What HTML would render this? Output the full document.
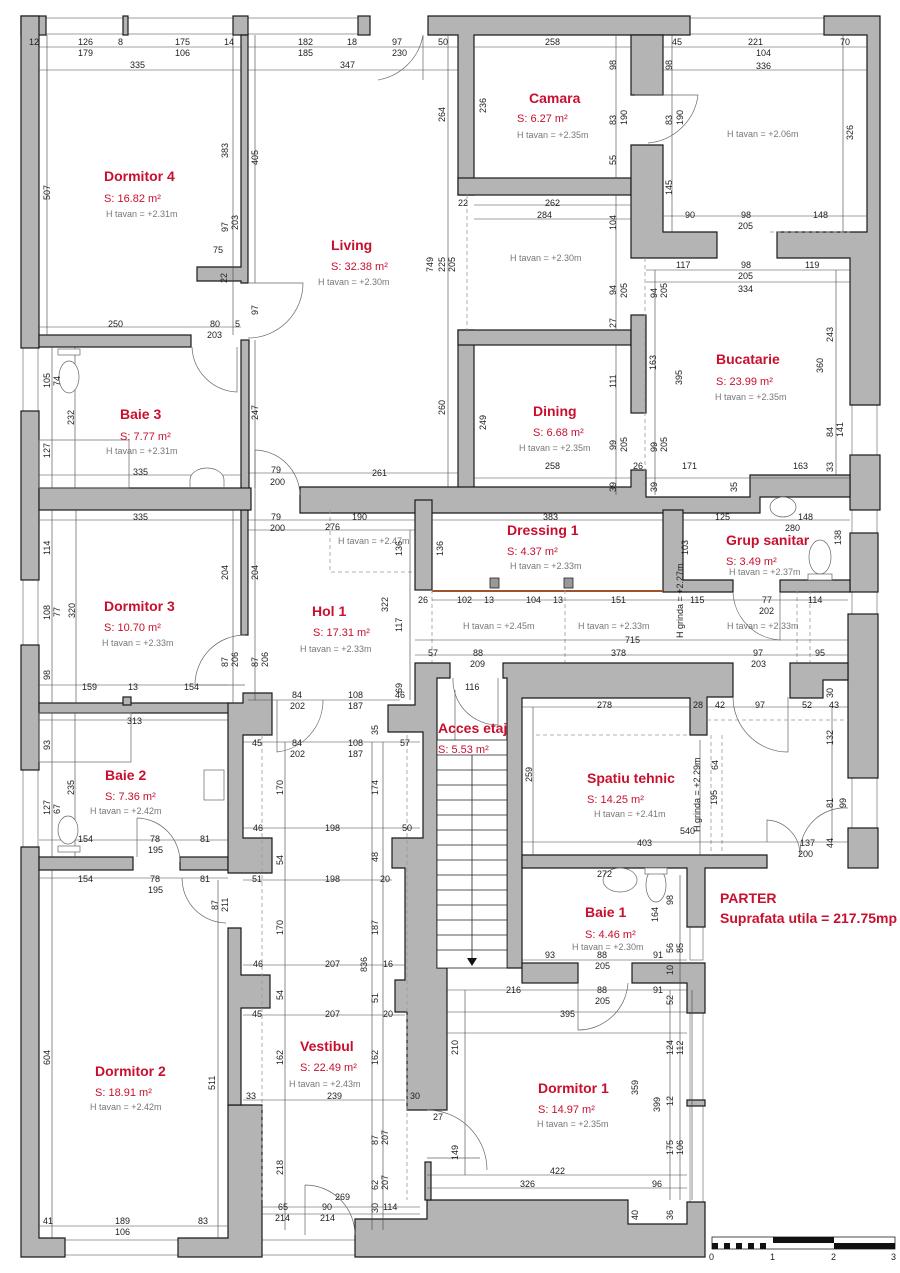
<!DOCTYPE html>
<html><head><meta charset="utf-8"><style>
html,body{margin:0;padding:0;background:#fff;}
svg{display:block;}
.w{fill:#b4b4b4;stroke:#1a1a1a;stroke-width:1.2;}
.d{font-family:"Liberation Sans",sans-serif;font-size:9px;fill:#222;}
.t{font-family:"Liberation Sans",sans-serif;font-size:14px;font-weight:bold;fill:#c8102e;}
.s{font-family:"Liberation Sans",sans-serif;font-size:11px;fill:#c8102e;}
.h{font-family:"Liberation Sans",sans-serif;font-size:9px;fill:#777;}
.l{stroke:#444;stroke-width:0.6;fill:none;}
.dash{stroke:#999;stroke-width:0.8;fill:none;stroke-dasharray:4 3;}
.win{fill:#fff;stroke:#777;stroke-width:0.7;}
.arc{stroke:#666;stroke-width:0.7;fill:none;}
</style></head><body>
<svg width="900" height="1273" viewBox="0 0 900 1273" xmlns="http://www.w3.org/2000/svg">
<!-- windows -->
<rect class="win" x="46" y="18" width="188" height="16"/>
<rect class="win" x="248" y="18" width="110" height="16"/>
<rect class="win" x="690" y="18" width="134" height="16"/>
<rect class="win" x="23" y="348" width="15" height="63"/>
<rect class="win" x="23" y="580" width="15" height="65"/>
<rect class="win" x="23" y="770" width="15" height="77"/>
<rect class="win" x="65" y="1240" width="113" height="15"/>
<rect class="win" x="852" y="405" width="25" height="50"/>
<rect class="win" x="852" y="510" width="25" height="23"/>
<rect class="win" x="852" y="592" width="25" height="22"/>
<rect class="win" x="852" y="778" width="25" height="50"/>
<rect class="win" x="690" y="927" width="13" height="33"/>
<rect class="win" x="690" y="1013" width="13" height="189"/>
<rect class="win" x="262" y="1240" width="93" height="15"/>

<!-- outer walls -->
<rect class="w" x="21" y="16" width="25" height="19"/>
<rect class="w" x="21" y="16" width="18" height="332"/>
<rect class="w" x="123" y="16" width="5" height="19"/>
<rect class="w" x="233" y="16" width="15" height="19"/>
<rect class="w" x="358" y="16" width="12" height="19"/>
<path class="w" d="M428 16 H690 V35 H474 V195 H458 V35 H428 Z"/>
<path class="w" d="M824 16 H880 V405 H850 V258 H777 V232 H867 V35 H824 Z"/>
<rect class="w" x="850" y="455" width="30" height="55"/>
<rect class="w" x="850" y="533" width="28" height="59"/>
<rect class="w" x="848" y="614" width="30" height="164"/>
<rect class="w" x="848" y="828" width="30" height="40"/>
<rect class="w" x="21" y="411" width="18" height="169"/>
<rect class="w" x="21" y="645" width="18" height="125"/>
<path class="w" d="M21 847 H39 V1238 H65 V1257 H21 Z"/>
<path class="w" d="M178 1238 H228 V1105 H262 V1257 H178 Z"/>
<path class="w" d="M355 1257 V1219 H427 V1200 H628 V1224 H687 V1202 H705 V1257 Z"/>
<!-- interior -->
<path class="w" d="M241 35 H248 V283 H241 V281 H197 V267 H241 Z"/>
<rect class="w" x="39" y="335" width="152" height="12"/>
<rect class="w" x="241" y="340" width="8" height="170"/>
<rect class="w" x="241" y="510" width="7" height="125"/>
<rect class="w" x="39" y="488" width="212" height="22"/>
<rect class="w" x="458" y="330" width="16" height="180"/>
<rect class="w" x="458" y="178" width="173" height="17"/>
<path class="w" d="M631 35 H663 V95 H631 Z"/>
<path class="w" d="M631 145 H663 V232 H717 V258 H631 Z"/>
<rect class="w" x="458" y="330" width="173" height="15"/>
<rect class="w" x="631" y="315" width="15" height="98"/>
<path class="w" d="M300 487 H631 V470 H646 V497 H750 V475 H850 V497 H760 V513 H300 Z"/>
<rect class="w" x="415" y="500" width="17" height="90"/>
<path class="w" d="M663 510 H683 V580 H733 V592 H663 Z"/>
<rect class="w" x="780" y="580" width="70" height="12"/>
<rect class="w" x="39" y="703" width="190" height="10"/>
<rect class="w" x="123" y="697" width="8" height="8"/>
<rect class="w" x="39" y="857" width="94" height="13"/>
<rect class="w" x="180" y="857" width="48" height="13"/>
<path class="w" d="M228 703 H243 V693 H272 V735 H243 V838 H272 V873 H228 Z"/>
<path class="w" d="M228 928 H241 V975 H270 V1008 H241 V1105 H228 Z"/>
<path class="w" d="M415 663 H450 V678 H437 V968 H447 V1110 H407 V1012 H395 V980 H405 V868 H392 V838 H423 V732 H388 V705 H415 Z"/>
<path class="w" d="M503 663 H733 V697 H707 V735 H690 V698 H522 V968 H507 V678 H503 Z"/>
<path class="w" d="M790 663 H848 V680 H823 V698 H790 Z"/>
<path class="w" d="M522 855 H767 V868 H705 V927 H687 V868 H522 Z"/>
<rect class="w" x="522" y="963" width="56" height="20"/>
<path class="w" d="M632 963 H705 V1013 H687 V983 H632 Z"/>
<rect class="w" x="687" y="1100" width="18" height="6"/>
<rect class="w" x="425" y="1162" width="6" height="38"/>
<!-- stair -->
<g stroke="#222" stroke-width="0.8">
<rect x="437" y="740" width="70" height="228" fill="#fff"/>
<line x1="437" y1="755" x2="507" y2="755"/><line x1="437" y1="770" x2="507" y2="770"/><line x1="437" y1="785" x2="507" y2="785"/><line x1="437" y1="800" x2="507" y2="800"/><line x1="437" y1="815" x2="507" y2="815"/><line x1="437" y1="830" x2="507" y2="830"/><line x1="437" y1="845" x2="507" y2="845"/><line x1="437" y1="860" x2="507" y2="860"/><line x1="437" y1="875" x2="507" y2="875"/><line x1="437" y1="890" x2="507" y2="890"/><line x1="437" y1="905" x2="507" y2="905"/><line x1="437" y1="920" x2="507" y2="920"/><line x1="437" y1="935" x2="507" y2="935"/><line x1="437" y1="950" x2="507" y2="950"/>
<line x1="472" y1="755" x2="472" y2="960"/>
</g>
<path d="M467 958 L477 958 L472 966 Z" fill="#111"/>
<line x1="432" y1="591" x2="663" y2="591" stroke="#a0522d" stroke-width="2"/>
<rect x="490" y="578" width="9" height="10" fill="#999" stroke="#222" stroke-width="0.8"/>
<rect x="564" y="578" width="9" height="10" fill="#999" stroke="#222" stroke-width="0.8"/>
<path class="dash" d="M330 510 V572 H413"/>
<path class="dash" d="M467 195 V330 M645 258 V495 M770 232 H850 M432 590 V662 M565 590 V662 M797 590 V662 M810 590 V662 M536 735 H690 M707 720 H848 M711 735 V855 M722 735 V855"/>
<path class="dash" d="M262 735 V1200 M407 735 V1200"/>
<g class="l">
<path d="M39 47 H241 M39 70 H241 M248 47 H458 M248 70 H458 M474 47 H631 M663 47 H867 M663 70 H867 M474 205 H631 M474 219 H631 M663 216 H867 M646 270 H850 M646 282 H850 M39 327 H241 M39 475 H241 M248 473 H458 M474 478 H631 M646 478 H850 M39 520 H241 M248 520 H415 M248 530 H415 M432 520 H663 M683 520 H850 M432 600 H848 M415 640 H848 M415 655 H848 M39 685 H228 M248 700 H400 M39 720 H228 M243 742 H420 M39 840 H228 M243 828 H420 M39 878 H228 M243 880 H392 M243 965 H405 M243 1015 H405 M243 1100 H405 M522 707 H690 M707 707 H848 M522 842 H848 M522 960 H687 M447 990 H687 M447 1012 H687 M447 1033 H687 M427 1175 H687 M427 1188 H687 M39 1226 H228 M262 1207 H420 M262 1214 H420"/>
<path d="M47 35 V335 M233 35 V335 M255 35 V283 M255 340 V488 M448 35 V487 M616 35 V178 M616 195 V330 M616 345 V495 M672 35 V232 M836 270 V475 M843 35 V232 M655 270 V495 M52 347 V488 M75 347 V488 M233 510 V703 M255 510 V700 M410 530 V700 M52 510 V703 M76 510 V703 M52 713 V857 M75 713 V857 M52 870 V1238 M218 880 V1238 M285 742 V1230 M372 742 V1230 M383 742 V1230 M455 690 V740 M533 707 V855 M700 740 V855 M832 707 V842 M465 990 V1175 M670 990 V1200 M680 875 V1200 M692 990 V1200"/>
</g>
<g class="arc">
<path d="M423 35 A55 55 0 0 1 378 80 M423 35 V80"/>
<path d="M248 283 H303 A55 55 0 0 1 248 338"/>
<path d="M192 347 A47 47 0 0 0 237 392 V347"/>
<path d="M255 450 A46 46 0 0 1 300 495 M255 450 V510"/>
<path d="M635 95 H698 A55 55 0 0 1 648 143"/>
<path d="M245 635 A50 50 0 0 0 195 685 H245"/>
<path d="M323 700 A52 52 0 0 1 277 752 V700"/>
<path d="M137 818 A44 44 0 0 1 180 862 M137 818 V857"/>
<path d="M182 878 A45 45 0 0 0 226 923"/>
<path d="M733 592 A50 50 0 0 0 780 640 V592"/>
<path d="M453 678 A45 45 0 0 0 498 725 V678"/>
<path d="M733 697 A55 55 0 0 0 788 752 V697"/>
<path d="M767 842 V820 A35 35 0 0 1 800 855"/>
<path d="M848 808 A45 45 0 0 0 800 855"/>
<path d="M578 983 V1030 A50 50 0 0 0 628 983"/>
<path d="M427 1110 A60 60 0 0 1 487 1170 M427 1158 H480"/>
<path d="M305 1185 A50 50 0 0 1 355 1235 M305 1185 V1235"/>
</g>
<g stroke="#666" stroke-width="0.7" fill="#fff">
<ellipse cx="69" cy="377" rx="10" ry="16"/><rect x="58" y="349" width="22" height="6"/>
<path d="M190 487 V480 A17 12 0 0 1 224 480 V487"/>
<ellipse cx="68" cy="830" rx="10" ry="14"/><rect x="58" y="846" width="22" height="6"/>
<rect x="204" y="770" width="20" height="30"/>
<ellipse cx="620" cy="880" rx="17" ry="12"/>
<ellipse cx="656" cy="885" rx="10" ry="17"/><rect x="645" y="868" width="22" height="6"/>
<ellipse cx="783" cy="507" rx="13" ry="10"/>
<ellipse cx="820" cy="557" rx="11" ry="17"/><rect x="808" y="574" width="24" height="6"/>
<rect x="39" y="440" width="90" height="48" fill="none"/>
<rect x="39" y="713" width="92" height="49" fill="none"/>
</g>
<text class="t" x="104" y="181">Dormitor 4</text>
<text class="s" x="104" y="202">S:      16.82 m²</text>
<text class="h" x="106" y="217">H tavan = +2.31m</text>
<text class="t" x="331" y="250">Living</text>
<text class="s" x="331" y="270">S: 32.38 m²</text>
<text class="h" x="318" y="285">H tavan = +2.30m</text>
<text class="t" x="529" y="103">Camara</text>
<text class="s" x="517" y="122">S:  6.27 m²</text>
<text class="h" x="517" y="138">H tavan = +2.35m</text>
<text class="h" x="727" y="137">H tavan = +2.06m</text>
<text class="h" x="510" y="261">H tavan = +2.30m</text>
<text class="t" x="716" y="364">Bucatarie</text>
<text class="s" x="716" y="385">S:    23.99 m²</text>
<text class="h" x="715" y="400">H tavan = +2.35m</text>
<text class="t" x="533" y="416">Dining</text>
<text class="s" x="533" y="436">S: 6.68 m²</text>
<text class="h" x="519" y="451">H tavan = +2.35m</text>
<text class="t" x="120" y="419">Baie 3</text>
<text class="s" x="120" y="440">S: 7.77 m²</text>
<text class="h" x="106" y="454">H tavan = +2.31m</text>
<text class="t" x="507" y="535">Dressing 1</text>
<text class="s" x="507" y="555">S:          4.37 m²</text>
<text class="h" x="510" y="569">H tavan = +2.33m</text>
<text class="h" x="338" y="544">H tavan = +2.47m</text>
<text class="t" x="726" y="545">Grup sanitar</text>
<text class="s" x="726" y="565">S:              3.49 m²</text>
<text class="h" x="729" y="575">H tavan = +2.37m</text>
<text class="h" x="463" y="629">H tavan = +2.45m</text>
<text class="h" x="578" y="629">H tavan = +2.33m</text>
<text class="h" x="727" y="629">H tavan = +2.33m</text>
<text class="t" x="104" y="611">Dormitor 3</text>
<text class="s" x="104" y="631">S:      10.70 m²</text>
<text class="h" x="102" y="646">H tavan = +2.33m</text>
<text class="t" x="312" y="616">Hol 1</text>
<text class="s" x="313" y="636">S: 17.31 m²</text>
<text class="h" x="300" y="652">H tavan = +2.33m</text>
<text class="t" x="438" y="733">Acces etaj</text>
<text class="s" x="438" y="753">S:          5.53 m²</text>
<text class="t" x="105" y="780">Baie 2</text>
<text class="s" x="105" y="800">S: 7.36 m²</text>
<text class="h" x="90" y="814">H tavan = +2.42m</text>
<text class="t" x="587" y="783">Spatiu tehnic</text>
<text class="s" x="587" y="803">S:                14.25 m²</text>
<text class="h" x="594" y="817">H tavan = +2.41m</text>
<text class="t" x="585" y="917">Baie 1</text>
<text class="s" x="585" y="938">S: 4.46 m²</text>
<text class="h" x="572" y="950">H tavan = +2.30m</text>
<text class="t" x="720" y="903">PARTER</text>
<text class="t" x="720" y="923">Suprafata utila = 217.75mp</text>
<text class="t" x="95" y="1076">Dormitor 2</text>
<text class="s" x="95" y="1096">S:      18.91 m²</text>
<text class="h" x="90" y="1110">H tavan = +2.42m</text>
<text class="t" x="300" y="1051">Vestibul</text>
<text class="s" x="300" y="1071">S: 22.49 m²</text>
<text class="h" x="289" y="1087">H tavan = +2.43m</text>
<text class="t" x="538" y="1093">Dormitor 1</text>
<text class="s" x="538" y="1113">S:      14.97 m²</text>
<text class="h" x="537" y="1127">H tavan = +2.35m</text>
<g class="d">
<text x="29" y="45">12</text><text x="78" y="45">126</text><text x="78" y="56">179</text><text x="118" y="45">8</text><text x="175" y="45">175</text><text x="175" y="56">106</text><text x="224" y="45">14</text>
<text x="130" y="68">335</text><text x="298" y="45">182</text><text x="298" y="56">185</text><text x="347" y="45">18</text><text x="392" y="45">97</text><text x="392" y="56">230</text><text x="438" y="45">50</text><text x="340" y="68">347</text>
<text x="545" y="45">258</text><text x="672" y="45">45</text><text x="748" y="45">221</text><text x="756" y="56">104</text><text x="840" y="45">70</text><text x="756" y="69">336</text>
<text x="545" y="206">262</text><text x="537" y="218">284</text><text x="458" y="206">22</text>
<text x="685" y="218">90</text><text x="741" y="218">98</text><text x="738" y="229">205</text><text x="813" y="218">148</text>
<text x="676" y="268">117</text><text x="741" y="268">98</text><text x="738" y="279">205</text><text x="805" y="268">119</text><text x="738" y="292">334</text>
<text x="213" y="253">75</text><text x="108" y="327">250</text><text x="210" y="327">80</text><text x="207" y="338">203</text><text x="235" y="327">5</text>
<text x="133" y="475">335</text><text x="271" y="473">79</text><text x="270" y="485">200</text><text x="372" y="476">261</text>
<text x="545" y="469">258</text><text x="682" y="469">171</text><text x="793" y="469">163</text><text x="633" y="469">26</text>
<text x="133" y="520">335</text><text x="271" y="520">79</text><text x="270" y="531">200</text><text x="325" y="530">276</text><text x="352" y="520">190</text><text x="543" y="520">383</text>
<text x="715" y="520">125</text><text x="785" y="531">280</text><text x="798" y="520">148</text>
<text x="418" y="603">26</text><text x="457" y="603">102</text><text x="484" y="603">13</text><text x="526" y="603">104</text><text x="553" y="603">13</text><text x="611" y="603">151</text><text x="690" y="603">115</text><text x="762" y="603">77</text><text x="759" y="614">202</text><text x="808" y="603">114</text>
<text x="625" y="643">715</text><text x="428" y="656">57</text><text x="473" y="656">88</text><text x="470" y="667">209</text><text x="611" y="656">378</text><text x="753" y="656">97</text><text x="751" y="667">203</text><text x="815" y="656">95</text>
<text x="82" y="690">159</text><text x="128" y="690">13</text><text x="184" y="690">154</text><text x="292" y="698">84</text><text x="290" y="709">202</text><text x="348" y="698">108</text><text x="348" y="709">187</text><text x="395" y="698">46</text><text x="465" y="690">116</text>
<text x="127" y="724">313</text><text x="597" y="708">278</text><text x="693" y="708">28</text><text x="715" y="708">42</text><text x="755" y="708">97</text><text x="802" y="708">52</text><text x="829" y="708">43</text>
<text x="252" y="746">45</text><text x="292" y="746">84</text><text x="290" y="757">202</text><text x="348" y="746">108</text><text x="348" y="757">187</text><text x="400" y="746">57</text>
<text x="253" y="831">46</text><text x="325" y="831">198</text><text x="402" y="831">50</text><text x="680" y="834">540</text><text x="637" y="846">403</text><text x="800" y="846">137</text><text x="798" y="857">200</text>
<text x="78" y="842">154</text><text x="150" y="842">78</text><text x="148" y="853">195</text><text x="200" y="842">81</text>
<text x="78" y="882">154</text><text x="150" y="882">78</text><text x="148" y="893">195</text><text x="200" y="882">81</text><text x="252" y="882">51</text><text x="325" y="882">198</text><text x="380" y="882">20</text>
<text x="597" y="877">272</text><text x="545" y="958">93</text><text x="597" y="958">88</text><text x="595" y="969">205</text><text x="653" y="958">91</text>
<text x="253" y="967">46</text><text x="325" y="967">207</text><text x="383" y="967">16</text>
<text x="252" y="1017">45</text><text x="325" y="1017">207</text><text x="383" y="1017">20</text>
<text x="506" y="993">216</text><text x="597" y="993">88</text><text x="595" y="1004">205</text><text x="653" y="993">91</text><text x="560" y="1017">395</text>
<text x="246" y="1099">33</text><text x="327" y="1099">239</text><text x="410" y="1099">30</text><text x="433" y="1120">27</text>
<text x="335" y="1200">269</text><text x="278" y="1210">65</text><text x="275" y="1221">214</text><text x="322" y="1210">90</text><text x="320" y="1221">214</text><text x="383" y="1210">114</text>
<text x="550" y="1174">422</text><text x="520" y="1187">326</text><text x="652" y="1187">96</text>
<text x="43" y="1224">41</text><text x="115" y="1224">189</text><text x="115" y="1235">106</text><text x="198" y="1224">83</text>
</g>
<g class="d">
<text transform="translate(50,200) rotate(-90)">507</text><text transform="translate(228,158) rotate(-90)">383</text><text transform="translate(258,165) rotate(-90)">405</text>
<text transform="translate(445,122) rotate(-90)">264</text><text transform="translate(433,272) rotate(-90)">749</text><text transform="translate(445,272) rotate(-90)">225</text><text transform="translate(455,272) rotate(-90)">205</text><text transform="translate(445,415) rotate(-90)">260</text>
<text transform="translate(486,113) rotate(-90)">236</text><text transform="translate(616,70) rotate(-90)">98</text><text transform="translate(616,125) rotate(-90)">83</text><text transform="translate(627,125) rotate(-90)">190</text><text transform="translate(616,165) rotate(-90)">55</text>
<text transform="translate(672,70) rotate(-90)">98</text><text transform="translate(672,125) rotate(-90)">83</text><text transform="translate(683,125) rotate(-90)">190</text><text transform="translate(672,195) rotate(-90)">145</text><text transform="translate(853,140) rotate(-90)">326</text>
<text transform="translate(616,230) rotate(-90)">104</text><text transform="translate(616,295) rotate(-90)">94</text><text transform="translate(627,298) rotate(-90)">205</text><text transform="translate(616,328) rotate(-90)">27</text>
<text transform="translate(657,298) rotate(-90)">94</text><text transform="translate(667,298) rotate(-90)">205</text><text transform="translate(656,370) rotate(-90)">163</text><text transform="translate(682,385) rotate(-90)">395</text>
<text transform="translate(833,342) rotate(-90)">243</text><text transform="translate(823,373) rotate(-90)">360</text><text transform="translate(833,437) rotate(-90)">84</text><text transform="translate(843,437) rotate(-90)">141</text><text transform="translate(833,472) rotate(-90)">33</text>
<text transform="translate(486,430) rotate(-90)">249</text><text transform="translate(616,388) rotate(-90)">111</text><text transform="translate(616,450) rotate(-90)">99</text><text transform="translate(627,452) rotate(-90)">205</text><text transform="translate(616,492) rotate(-90)">39</text><text transform="translate(657,452) rotate(-90)">99</text><text transform="translate(667,452) rotate(-90)">205</text><text transform="translate(657,492) rotate(-90)">39</text><text transform="translate(737,492) rotate(-90)">35</text>
<text transform="translate(50,388) rotate(-90)">105</text><text transform="translate(60,386) rotate(-90)">74</text><text transform="translate(74,425) rotate(-90)">232</text><text transform="translate(50,458) rotate(-90)">127</text>
<text transform="translate(228,232) rotate(-90)">97</text><text transform="translate(238,230) rotate(-90)">203</text><text transform="translate(258,315) rotate(-90)">97</text><text transform="translate(227,283) rotate(-90)">22</text><text transform="translate(258,420) rotate(-90)">247</text>
<text transform="translate(50,555) rotate(-90)">114</text><text transform="translate(50,620) rotate(-90)">108</text><text transform="translate(60,617) rotate(-90)">77</text><text transform="translate(75,618) rotate(-90)">320</text><text transform="translate(50,680) rotate(-90)">98</text>
<text transform="translate(228,580) rotate(-90)">204</text><text transform="translate(258,580) rotate(-90)">204</text><text transform="translate(228,667) rotate(-90)">87</text><text transform="translate(238,667) rotate(-90)">206</text><text transform="translate(258,667) rotate(-90)">87</text><text transform="translate(268,667) rotate(-90)">206</text>
<text transform="translate(388,612) rotate(-90)">322</text><text transform="translate(402,632) rotate(-90)">117</text><text transform="translate(402,556) rotate(-90)">136</text><text transform="translate(443,556) rotate(-90)">136</text><text transform="translate(402,693) rotate(-90)">69</text>
<text transform="translate(688,555) rotate(-90)">103</text><text transform="translate(841,545) rotate(-90)">138</text>
<text transform="translate(50,750) rotate(-90)">93</text><text transform="translate(74,795) rotate(-90)">235</text><text transform="translate(50,815) rotate(-90)">127</text><text transform="translate(60,814) rotate(-90)">67</text>
<text transform="translate(283,795) rotate(-90)">170</text><text transform="translate(378,795) rotate(-90)">174</text><text transform="translate(378,735) rotate(-90)">35</text><text transform="translate(283,865) rotate(-90)">54</text><text transform="translate(378,862) rotate(-90)">48</text>
<text transform="translate(532,782) rotate(-90)">259</text><text transform="translate(718,770) rotate(-90)">64</text><text transform="translate(717,805) rotate(-90)">195</text><text transform="translate(833,745) rotate(-90)">132</text><text transform="translate(833,808) rotate(-90)">81</text><text transform="translate(846,808) rotate(-90)">99</text><text transform="translate(833,848) rotate(-90)">44</text><text transform="translate(833,698) rotate(-90)">30</text>
<text transform="translate(283,935) rotate(-90)">170</text><text transform="translate(378,935) rotate(-90)">187</text><text transform="translate(367,972) rotate(-90)">836</text><text transform="translate(283,1000) rotate(-90)">54</text><text transform="translate(378,1003) rotate(-90)">51</text>
<text transform="translate(658,922) rotate(-90)">164</text><text transform="translate(673,905) rotate(-90)">98</text><text transform="translate(673,953) rotate(-90)">56</text><text transform="translate(683,953) rotate(-90)">85</text><text transform="translate(673,975) rotate(-90)">10</text><text transform="translate(673,1005) rotate(-90)">52</text>
<text transform="translate(218,910) rotate(-90)">87</text><text transform="translate(228,912) rotate(-90)">211</text><text transform="translate(50,1065) rotate(-90)">604</text><text transform="translate(215,1090) rotate(-90)">511</text>
<text transform="translate(283,1065) rotate(-90)">162</text><text transform="translate(378,1065) rotate(-90)">162</text><text transform="translate(458,1055) rotate(-90)">210</text>
<text transform="translate(378,1145) rotate(-90)">87</text><text transform="translate(388,1145) rotate(-90)">207</text><text transform="translate(283,1175) rotate(-90)">218</text><text transform="translate(378,1190) rotate(-90)">62</text><text transform="translate(388,1190) rotate(-90)">207</text><text transform="translate(378,1213) rotate(-90)">30</text><text transform="translate(458,1160) rotate(-90)">149</text>
<text transform="translate(638,1095) rotate(-90)">359</text><text transform="translate(660,1112) rotate(-90)">399</text><text transform="translate(673,1055) rotate(-90)">124</text><text transform="translate(683,1055) rotate(-90)">112</text><text transform="translate(673,1106) rotate(-90)">12</text><text transform="translate(673,1155) rotate(-90)">175</text><text transform="translate(683,1155) rotate(-90)">106</text><text transform="translate(638,1220) rotate(-90)">40</text><text transform="translate(673,1220) rotate(-90)">36</text>
<text transform="translate(683,638) rotate(-90)">H grinda = +2.27m</text><text transform="translate(700,832) rotate(-90)">H grinda = +2.29m</text>
</g>
<g>
<rect x="712" y="1237" width="183" height="12" fill="#fff" stroke="#222" stroke-width="0.8"/>
<rect x="773" y="1237" width="61" height="6" fill="#111"/>
<rect x="834" y="1243" width="61" height="6" fill="#111"/>
<rect x="712" y="1243" width="6" height="6" fill="#111"/><rect x="724" y="1243" width="6" height="6" fill="#111"/><rect x="736" y="1243" width="6" height="6" fill="#111"/><rect x="748" y="1243" width="6" height="6" fill="#111"/><rect x="760" y="1243" width="6" height="6" fill="#111"/>
<text class="d" x="709" y="1260">0</text><text class="d" x="770" y="1260">1</text><text class="d" x="831" y="1260">2</text><text class="d" x="891" y="1260">3</text>
</g>
</svg>
</body></html>
